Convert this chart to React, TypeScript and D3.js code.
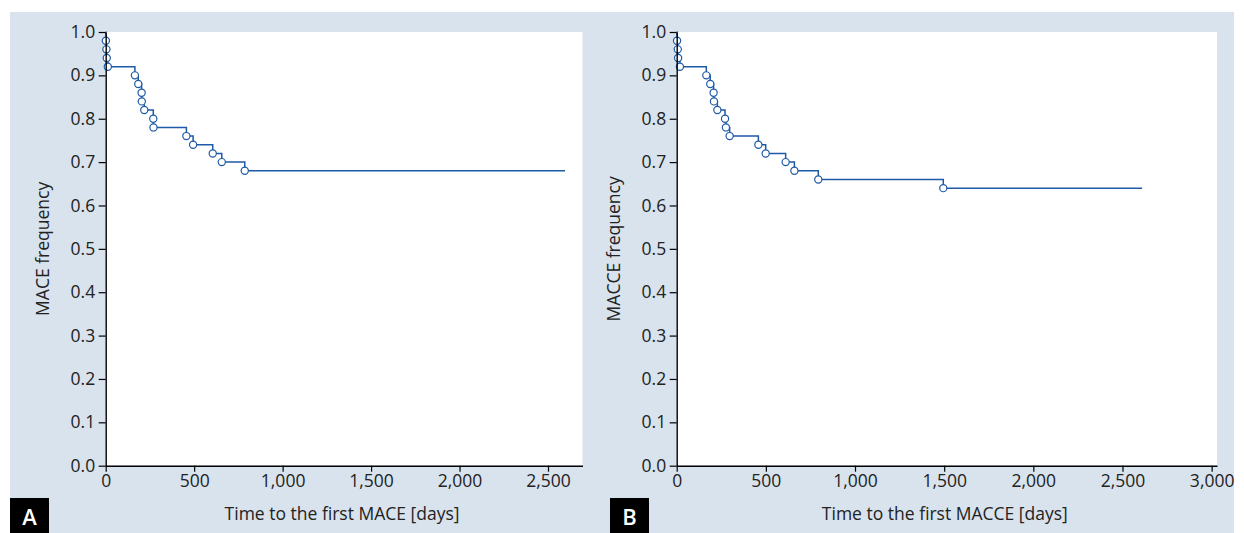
import React, { useRef, useEffect } from "react";
import { scaleLinear, select, axisLeft, axisBottom, format, line, curveStepAfter } from "d3";

// Kaplan-Meier style event points
const maceDays = [0, 1, 4, 6, 12, 165, 184, 203, 204, 218, 269, 270, 456, 494, 605, 656, 786, 2596];
const maceSurv = [1.0, 0.98, 0.96, 0.94, 0.92, 0.9, 0.88, 0.86, 0.84, 0.82, 0.8, 0.78, 0.76, 0.74, 0.72, 0.7, 0.68, 0.68];
const macceDays = [0, 2, 6, 8, 18, 166, 188, 207, 209, 228, 271, 276, 297, 458, 499, 611, 660, 794, 1495, 2610];
const macceSurv = [1.0, 0.98, 0.96, 0.94, 0.92, 0.9, 0.88, 0.86, 0.84, 0.82, 0.8, 0.78, 0.76, 0.74, 0.72, 0.7, 0.68, 0.66, 0.64, 0.64];

const yTicks = [0, 0.1, 0.2, 0.3, 0.4, 0.5, 0.6, 0.7, 0.8, 0.9, 1.0];
const xTicksA = [0, 500, 1000, 1500, 2000, 2500];
const xTicksB = [0, 500, 1000, 1500, 2000, 2500, 3000];

const bg = "#d9e3ed";
const blue = "#1f5aa6";
const font = "'Open Sans', 'Noto Sans', sans-serif";

const Panel = ({ left, right, xMax, days, surv, xTicks, yLabel, xLabel, tag, tagX }) => {
  const gRef = useRef();
  const top = 32;
  const bottom = 465.7;

  useEffect(() => {
    const x = scaleLinear().domain([0, xMax]).range([left, right]);
    const y = scaleLinear().domain([0, 1]).range([bottom, top]);
    const g = select(gRef.current);
    g.selectAll("*").remove();

    g.append("rect")
      .attr("x", left)
      .attr("y", top)
      .attr("width", right - left)
      .attr("height", bottom - top)
      .attr("fill", "#fff");

    const pts = days.map((d, i) => ({ t: d, s: surv[i] }));
    const path = line()
      .x((d) => x(d.t))
      .y((d) => y(d.s))
      .curve(curveStepAfter);
    g.append("path")
      .attr("d", path(pts))
      .attr("fill", "none")
      .attr("stroke", blue)
      .attr("stroke-width", 1.5);

    // event marks (skip start and end)
    g.selectAll("circle")
      .data(pts.slice(1, -1))
      .join("circle")
      .attr("cx", (d) => x(d.t))
      .attr("cy", (d) => y(d.s))
      .attr("r", 3.6)
      .attr("fill", "#fff")
      .attr("stroke", blue)
      .attr("stroke-width", 1.2);

    const ya = g
      .append("g")
      .attr("transform", `translate(${left},0)`)
      .call(axisLeft(y).tickValues(yTicks).tickFormat(format(".1f")).tickSizeInner(7).tickSizeOuter(0));
    const xa = g
      .append("g")
      .attr("transform", `translate(0,${bottom})`)
      .call(axisBottom(x).tickValues(xTicks).tickFormat(format(",")).tickSizeInner(6).tickSizeOuter(0));
    [ya, xa].forEach((a) => {
      a.selectAll("path").attr("stroke", "#000").attr("stroke-width", 1.4);
      a.selectAll("line").attr("stroke", "#000").attr("stroke-width", 1.2);
      a.selectAll("text")
        .attr("fill", "#222")
        .style("font-family", font)
        .style("font-size", "17.5px");
    });
    xa.selectAll("text").attr("dy", "0.95em").attr("y", 5);
    ya.selectAll("text").attr("x", -10.5);

    g.append("text")
      .attr("transform", `translate(${left - 57},${(top + bottom) / 2}) rotate(-90)`)
      .attr("text-anchor", "middle")
      .attr("fill", "#222")
      .style("font-family", font)
      .style("font-size", "17.5px")
      .text(yLabel);
    g.append("text")
      .attr("x", (left + right) / 2 - 2)
      .attr("y", 520)
      .attr("text-anchor", "middle")
      .attr("fill", "#222")
      .style("font-family", font)
      .style("font-size", "17.5px")
      .text(xLabel);

    g.append("rect")
      .attr("x", tagX)
      .attr("y", 498)
      .attr("width", 39)
      .attr("height", 35)
      .attr("fill", "#000");
    g.append("text")
      .attr("x", tagX + 19.5)
      .attr("y", 525)
      .attr("text-anchor", "middle")
      .attr("fill", "#fff")
      .style("font-family", font)
      .style("font-size", "22px")
      .style("font-weight", "600")
      .text(tag);
  }, []);

  return <g ref={gRef} />;
};

export default function App() {
  return (
    <svg width={1244} height={533} style={{ position: "absolute", left: 0, top: 0, background: "#fff" }}>
      <rect x={10} y={12} width={1224} height={521} fill={bg} />
      <Panel
        left={105.7}
        right={582.5}
        xMax={2695}
        days={maceDays}
        surv={maceSurv}
        xTicks={xTicksA}
        yLabel="MACE frequency"
        xLabel="Time to the first MACE [days]"
        tag="A"
        tagX={10}
      />
      <Panel
        left={676.7}
        right={1217}
        xMax={3030}
        days={macceDays}
        surv={macceSurv}
        xTicks={xTicksB}
        yLabel="MACCE frequency"
        xLabel="Time to the first MACCE [days]"
        tag="B"
        tagX={610}
      />
    </svg>
  );
}
